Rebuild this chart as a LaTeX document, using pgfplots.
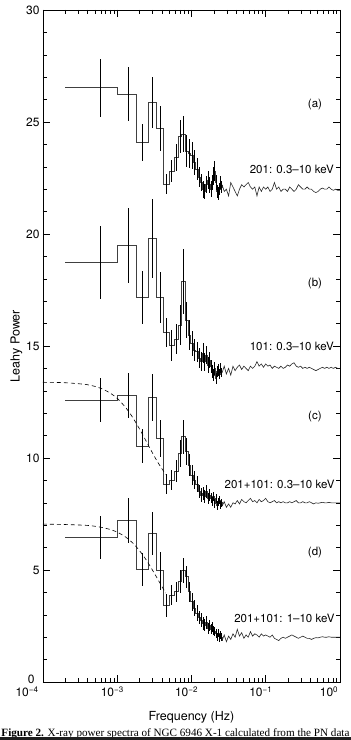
\documentclass[border=0pt]{standalone}
\usepackage{graphicx}
\usepackage{pgfplots}
\pgfplotsset{compat=1.18}
\usepackage{pgfplotstable}
\usepackage{fontspec}
\setmainfont{TeX Gyre Heros}
\newfontfamily\capfont{Liberation Serif}

% step data: left bin edges, Leahy power (offset) for panels a-d
\pgfplotstableread{
f a b c d
0.0002 26.53 18.72 12.59 6.44
0.0010 26.25 19.48 12.80 7.22
0.0018 24.08 17.17 10.54 5.03
0.0026 25.86 19.79 12.69 6.64
0.0034 24.72 17.16 10.88 4.97
0.0042 22.22 15.61 8.84 3.41
0.0050 22.80 15.01 9.02 3.88
0.0058 23.40 15.31 9.42 4.03
0.0066 24.35 15.94 10.21 4.48
0.0074 24.45 17.87 10.95 4.97
0.0082 23.70 16.16 10.28 4.70
0.0090 23.60 15.49 9.69 4.03
0.0098 23.50 15.12 9.24 3.58
0.0106 23.20 14.82 9.02 3.29
0.0114 22.90 14.75 8.83 3.07
0.0122 22.55 14.45 8.50 2.89
0.0130 22.30 14.30 8.35 2.77
0.0138 22.00 14.67 8.42 2.62
0.0146 21.90 14.30 8.27 2.54
0.0154 22.20 14.60 8.50 2.65
0.0162 22.40 14.15 8.20 2.40
0.0170 22.20 14.38 8.35 2.54
0.0178 22.00 14.08 8.20 2.35
0.0186 22.30 13.85 8.05 2.47
0.0194 22.60 13.71 8.27 2.32
0.0202 22.80 14.00 7.98 2.25
0.0210 22.30 13.56 8.20 2.17
0.0218 21.90 13.85 7.90 2.02
0.0226 21.80 13.93 8.05 2.17
0.0234 22.00 13.75 8.12 1.95
0.0242 22.30 14.00 7.90 2.10
0.0250 22.10 13.80 8.00 2.00
0.0258 22.20 13.80 7.85 1.85
0.0276 21.90 14.10 8.05 2.10
0.0295 22.00 13.75 7.80 1.80
0.0316 21.70 14.00 7.95 2.05
0.0338 22.30 13.70 7.80 1.90
0.0362 22.10 14.10 8.00 2.15
0.0387 21.90 13.90 7.95 2.00
0.0414 21.70 14.05 8.10 2.35
0.0443 22.00 14.15 7.95 2.05
0.0474 22.20 13.95 8.15 2.20
0.0508 22.10 14.10 8.05 1.95
0.0543 22.20 14.00 8.00 2.10
0.0581 22.30 13.90 8.10 2.00
0.0622 22.10 14.10 8.20 2.25
0.0665 22.00 14.00 8.05 2.05
0.0712 22.10 14.10 8.10 2.15
0.0762 21.70 14.30 8.00 2.10
0.0815 22.10 14.10 8.15 2.00
0.0872 21.90 14.20 8.05 2.15
0.0933 22.10 14.05 8.10 2.05
0.0998 22.00 14.20 8.20 2.10
0.1068 22.10 14.10 8.05 2.05
0.1143 21.90 14.15 8.00 2.00
0.1223 22.00 14.00 8.05 2.10
0.1309 22.30 14.10 8.10 1.95
0.1400 22.00 14.05 8.00 1.90
0.1498 22.10 14.00 8.05 1.85
0.1603 21.90 14.10 8.00 1.95
0.1716 22.00 14.00 8.05 2.00
0.1836 22.00 14.05 8.00 1.95
0.1964 21.90 14.15 8.00 2.00
0.2102 22.10 14.10 8.05 2.05
0.2249 22.00 14.20 8.00 2.10
0.2406 21.90 14.25 8.05 2.05
0.2575 22.00 14.10 8.10 2.00
0.2755 22.20 14.05 8.00 1.95
0.2948 22.10 14.10 8.00 2.00
0.3154 22.00 14.00 8.05 2.05
0.3375 22.00 14.05 8.00 2.00
0.3611 22.10 14.00 8.00 1.95
0.3864 22.00 14.05 8.05 1.95
0.4134 22.00 14.00 8.00 1.90
0.4424 21.90 13.95 7.95 1.95
0.4733 21.85 13.90 8.00 1.98
0.5065 21.90 13.95 7.98 1.97
0.5419 22.00 14.00 8.00 2.00
0.5799 22.05 14.05 8.02 2.02
0.6204 22.00 14.00 8.00 2.00
0.6639 22.00 14.05 8.00 2.00
0.7103 22.10 14.00 8.02 2.02
0.7601 22.00 14.05 8.00 2.00
0.8133 21.95 14.00 8.00 2.00
0.8702 22.00 14.05 8.00 2.00
0.9311 21.95 14.00 8.00 2.00
1.0000 21.95 14.00 8.00 2.00
}\steps

% bin centres with 1-sigma errors
\pgfplotstableread{
f a ea b eb c ec d ed
0.0006 26.53 1.30 18.72 1.64 12.59 1.00 6.44 0.95
0.0014 26.25 1.20 19.48 1.67 12.80 1.00 7.22 1.00
0.0022 24.08 0.84 17.17 1.20 10.54 0.76 5.03 0.75
0.0030 25.86 1.15 19.79 1.76 12.69 1.04 6.64 0.97
0.0038 24.72 1.00 17.16 1.15 10.88 0.83 4.97 0.85
0.0046 22.22 0.45 15.61 0.65 8.84 0.45 3.41 0.50
0.0054 22.80 0.50 15.01 0.70 9.02 0.45 3.88 0.45
0.0062 23.40 0.60 15.31 0.65 9.42 0.50 4.03 0.45
0.0070 24.35 0.75 15.94 0.90 10.21 0.60 4.48 0.50
0.0078 24.45 0.80 17.87 1.45 10.95 0.75 4.97 0.55
0.0086 23.70 0.70 16.16 0.80 10.28 0.60 4.70 0.50
0.0094 23.60 0.65 15.49 0.65 9.69 0.50 4.03 0.45
0.0102 23.50 0.60 15.12 0.55 9.24 0.45 3.58 0.40
0.0110 23.20 0.55 14.82 0.50 9.02 0.40 3.29 0.35
0.0118 22.90 0.50 14.75 0.45 8.83 0.35 3.07 0.35
0.0126 22.55 0.45 14.45 0.45 8.50 0.30 2.89 0.30
0.0134 22.30 0.40 14.30 0.42 8.35 0.30 2.77 0.30
0.0142 22.00 0.38 14.67 0.45 8.42 0.30 2.62 0.28
0.0150 21.90 0.35 14.30 0.40 8.27 0.28 2.54 0.28
0.0158 22.20 0.38 14.60 0.40 8.50 0.28 2.65 0.28
0.0166 22.40 0.40 14.15 0.35 8.20 0.25 2.40 0.25
0.0174 22.20 0.35 14.38 0.35 8.35 0.25 2.54 0.25
0.0182 22.00 0.35 14.08 0.30 8.20 0.22 2.35 0.22
0.0190 22.30 0.35 13.85 0.30 8.05 0.20 2.47 0.22
0.0198 22.60 0.40 13.71 0.28 8.27 0.20 2.32 0.20
0.0206 22.80 0.45 14.00 0.28 7.98 0.20 2.25 0.20
0.0214 22.30 0.35 13.56 0.25 8.20 0.20 2.17 0.20
0.0222 21.90 0.30 13.85 0.25 7.90 0.20 2.02 0.18
0.0230 21.80 0.30 13.93 0.25 8.05 0.18 2.17 0.18
0.0238 22.00 0.28 13.75 0.22 8.12 0.18 1.95 0.18
0.0246 22.30 0.28 14.00 0.22 7.90 0.18 2.10 0.18
0.0254 22.10 0.25 13.80 0.20 8.00 0.18 2.00 0.18
}\errs

% low-frequency model curves (dashed) for panels c and d
\pgfplotstableread{
f c d
0.0001 13.38 7.05
0.0002 13.36 7.03
0.0004 13.27 6.99
0.0006 13.11 6.91
0.0008 12.90 6.81
0.0010 12.66 6.69
0.0013 12.25 6.47
0.0016 11.83 6.22
0.0020 11.29 5.86
0.0025 10.70 5.41
0.0030 10.21 4.98
0.0035 9.82 4.60
0.0040 9.52 4.26
0.0045 9.27 3.97
}\model

\pgfplotsset{
  stepstyle/.style={const plot mark left, black!75, line width=0.75pt, skip coords between index={33}{200}},
  hfstyle/.style={sharp plot, black!85, line width=0.6pt, skip coords between index={0}{32}},
  errstyle/.style={only marks, mark=*, mark size=0pt, mark options={draw opacity=0, fill opacity=0}, error bars/.cd, y dir=both, y explicit, error mark=none, error bar style={black, line width=0.6pt}},
}

\begin{document}
\begin{tikzpicture}
\begin{axis}[
  at={(0pt,0pt)}, anchor=south west,
  scale only axis, width=297pt, height=672pt,
  xmode=log, xmin=1e-4, xmax=1, ymin=0, ymax=30,
  xtick={1e-4,1e-3,1e-2,1e-1,1},
  xticklabels={\makebox[0pt]{\hspace*{-22pt}10\textsuperscript{−4}},10\textsuperscript{−3},10\textsuperscript{−2},10\textsuperscript{−1},\makebox[0pt]{\hspace*{-12pt}10\textsuperscript{0}}},
  ytick={0,5,10,15,20,25,30}, minor y tick num=4,
  yticklabels={\raisebox{6pt}{0\hspace{5pt}},5,10,15,20,25,30},
  tick align=inside, major tick length=7pt, minor tick length=4pt,
  every tick/.style={black, line width=0.5pt},
  axis line style={line width=0.7pt},
  ticklabel style={font=\fontsize{12}{14}\selectfont},
  xticklabel style={xshift=-5pt, yshift=-1pt},
  /pgf/number format/assume math mode=true,
  xlabel={Frequency (Hz)}, ylabel={Leahy Power},
  label style={font=\fontsize{12.5}{15}\selectfont},
  xlabel style={yshift=-8pt},
  ylabel style={yshift=-3pt},
  clip=false,
]
\addplot[stepstyle] table[x=f,y=a]{\steps};
\addplot[stepstyle] table[x=f,y=b]{\steps};
\addplot[stepstyle] table[x=f,y=c]{\steps};
\addplot[stepstyle] table[x=f,y=d]{\steps};
\addplot[hfstyle] table[x=f,y=a]{\steps};
\addplot[hfstyle] table[x=f,y=b]{\steps};
\addplot[hfstyle] table[x=f,y=c]{\steps};
\addplot[hfstyle] table[x=f,y=d]{\steps};
\addplot[errstyle] table[x=f,y=a,y error=ea]{\errs};
\addplot[errstyle] table[x=f,y=b,y error=eb]{\errs};
\addplot[errstyle] table[x=f,y=c,y error=ec]{\errs};
\addplot[errstyle] table[x=f,y=d,y error=ed]{\errs};
\addplot[black, line width=0.6pt, dash pattern=on 4pt off 3pt, smooth] table[x=f,y=c]{\model};
\addplot[black, line width=0.6pt, dash pattern=on 4pt off 3pt, smooth] table[x=f,y=d]{\model};
\node[font=\fontsize{11.5}{13}\selectfont] at (axis cs:0.46,25.8) {(a)};
\node[font=\fontsize{11.5}{13}\selectfont] at (axis cs:0.46,17.8) {(b)};
\node[font=\fontsize{11.5}{13}\selectfont] at (axis cs:0.46,11.84) {(c)};
\node[font=\fontsize{11.5}{13}\selectfont] at (axis cs:0.46,5.8) {(d)};
\node[anchor=east, font=\fontsize{11.5}{13}\selectfont, inner sep=0pt] at (axis cs:0.83,22.89) {201: 0.3--10 keV};
\node[anchor=east, font=\fontsize{11.5}{13}\selectfont, inner sep=0pt] at (axis cs:0.83,14.97) {101: 0.3--10 keV};
\node[anchor=east, font=\fontsize{11.5}{13}\selectfont, inner sep=0pt] at (axis cs:0.85,8.84) {201+101: 0.3--10 keV};
\node[anchor=east, font=\fontsize{11.5}{13}\selectfont, inner sep=0pt] at (axis cs:0.85,2.84) {201+101: 1--10 keV};
\end{axis}
\node[anchor=base, inner sep=0pt] at (132.5pt,-54pt) {\resizebox{348pt}{!}{\capfont\textbf{Figure 2.} X-ray power spectra of NGC 6946 X-1 calculated from the PN data}};
\fill[black!88] (-43pt,-58pt) rectangle (308pt,-55pt);
\pgfresetboundingbox
\path[use as bounding box] (-43pt,-58pt) rectangle (308pt,682pt);
\end{tikzpicture}
\end{document}
